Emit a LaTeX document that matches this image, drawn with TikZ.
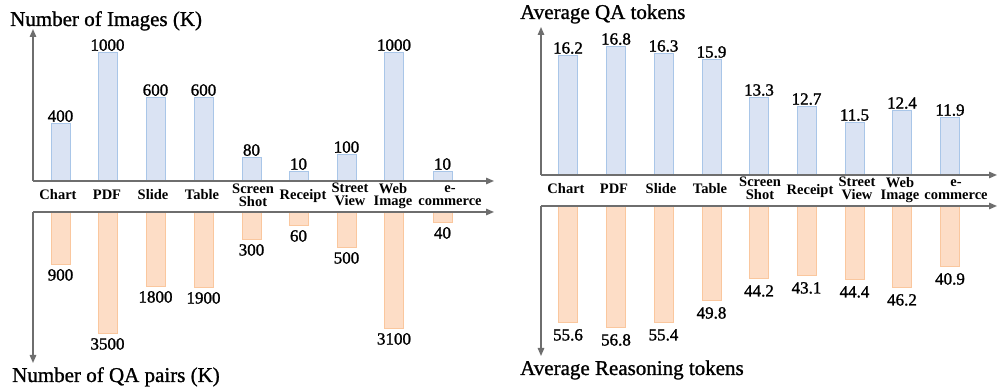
\documentclass[tikz,border=0pt]{standalone}
\usepackage{fontspec}
\setmainfont{Liberation Serif}
\newfontfamily\heavyserif[FakeBold=1.4]{Liberation Serif}
\newfontfamily\titleserif[FakeBold=1.1]{Liberation Serif}
\usetikzlibrary{arrows.meta}
\definecolor{bfill}{HTML}{DAE3F3}
\definecolor{bline}{HTML}{A9C6E8}
\definecolor{ofill}{HTML}{FDDDC6}
\definecolor{oline}{HTML}{FAC79E}
\definecolor{axc}{HTML}{6E6E6E}
\tikzset{
  bluebar/.style={fill=bfill,draw=bline,line width=1pt},
  orbar/.style={fill=ofill,draw=oline,line width=1pt},
  axis/.style={draw=axc,line width=1.4pt,-{Triangle[length=8pt,width=6.5pt]}},
  val/.style={inner sep=0pt,font=\heavyserif\fontsize{17}{17}\selectfont},
  cat/.style={inner sep=0pt,align=center,font=\bfseries\fontsize{14.5}{12.8}\selectfont},
  ttl/.style={inner sep=0pt,anchor=base west,font=\titleserif\fontsize{21}{21}\selectfont}
}
\begin{document}
\begin{tikzpicture}[x=1pt,y=-1pt]
\useasboundingbox (0,0) rectangle (997,387);
% ---------- left top ----------
\foreach \x/\t/\v [count=\i] in {60.5/124/400,107.5/53/1000,155.5/98/600,203.5/98/600,251.5/158/80,298.5/172/10,346.5/155/100,394/53/1000,442.5/172/10}{
  \draw[bluebar] (\x-9.5,181) rectangle (\x+9.5,\t);
  \node[val,anchor=south] (lt\i) at (\x,\t-2) {\v};
}
% ---------- left bottom ----------
\foreach \x/\b/\v [count=\i] in {60.5/265/900,107.5/334/3500,155.5/287/1800,203.5/288/1900,251.5/240/300,298.5/226/60,346.5/248/500,394/329/3100,442.5/223/40}{
  \draw[orbar] (\x-9.5,212) rectangle (\x+9.5,\b);
  \node[val,anchor=north] (lb\i) at (\x,\b+4) {\v};
}
\coordinate (lo1) at (33,181);
\coordinate (ly1) at (33,29);
\coordinate (lx1) at (494,181);
\coordinate (lo2) at (33,212);
\coordinate (ly2) at (33,363);
\coordinate (lx2) at (494,212);
\draw[axis] (lo1) -- (ly1);
\draw[axis] (lo1) -- (lx1);
\draw[axis] (lo2) -- (ly2);
\draw[axis] (lo2) -- (lx2);
\node[cat] (lc1) at (58,195) {Chart};
\node[cat] (lc2) at (107,195) {PDF};
\node[cat] (lc3) at (153,195) {Slide};
\node[cat] (lc4) at (202,195) {Table};
\node[cat] (lc5) at (253,195) {Screen\\Shot};
\node[cat] (lc6) at (303,196) {Receipt};
\node[cat] (lc7) at (350,194) {Street\\View};
\node[cat] (lc8) at (393,196) {Web\\Image};
\node[cat] (lc9) at (450,196) {e-\\commerce};
\node[ttl] (lt) at (10,26) {Number of Images (K)};
\node[ttl] (lbt) at (12,382) {Number of QA pairs (K)};
% ---------- right top ----------
\foreach \x/\t/\v [count=\i] in {568/56/16.2,616/47/16.8,663.5/54/16.3,711.5/60/15.9,759/98/13.3,806.5/107/12.7,854.5/123/11.5,902/111/12.4,950/118/11.9}{
  \draw[bluebar] (\x-9.5,175) rectangle (\x+9.5,\t);
  \node[val,anchor=south] (rt\i) at (\x,\t-2) {\v};
}
% ---------- right bottom ----------
\foreach \x/\b/\v [count=\i] in {568/323/55.6,616/328/56.8,663.5/323/55.4,711.5/301/49.8,759/279/44.2,806.5/276/43.1,854.5/280/44.4,902/288/46.2,950/267/40.9}{
  \draw[orbar] (\x-9.5,206) rectangle (\x+9.5,\b);
  \node[val,anchor=north] (rb\i) at (\x,\b+6) {\v};
}
\coordinate (ro1) at (541,175);
\coordinate (ry1) at (541,27);
\coordinate (rx1) at (997,175);
\coordinate (ro2) at (541,206);
\coordinate (ry2) at (541,356);
\coordinate (rx2) at (997,206);
\draw[axis] (ro1) -- (ry1);
\draw[axis] (ro1) -- (rx1);
\draw[axis] (ro2) -- (ry2);
\draw[axis] (ro2) -- (rx2);
\node[cat] (rc1) at (566,189) {Chart};
\node[cat] (rc2) at (614,189) {PDF};
\node[cat] (rc3) at (661,189) {Slide};
\node[cat] (rc4) at (710,189) {Table};
\node[cat] (rc5) at (760,188) {Screen\\Shot};
\node[cat] (rc6) at (810,191) {Receipt};
\node[cat] (rc7) at (857,188) {Street\\View};
\node[cat] (rc8) at (900,190) {Web\\Image};
\node[cat] (rc9) at (956,190) {e-\\commerce};
\node[ttl] (rtt) at (520,19) {Average QA tokens};
\node[ttl] (rbt) at (520,375) {Average Reasoning tokens};
\end{tikzpicture}
\end{document}
